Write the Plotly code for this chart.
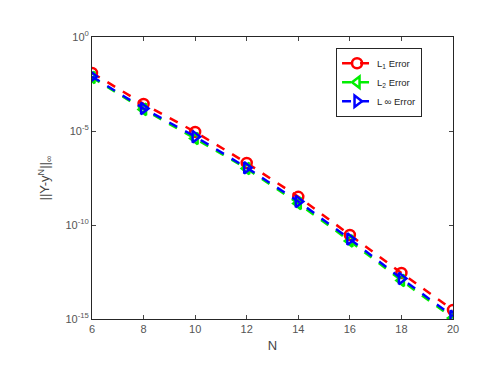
import plotly.graph_objects as go

N = [6, 8, 10, 12, 14, 16, 18, 20]
log_L1 = [-1.91, -3.56, -5.05, -6.70, -8.50, -10.53, -12.55, -14.52]
log_L2 = [-2.15, -3.85, -5.40, -7.00, -8.85, -10.85, -12.95, -14.95]
log_Linf = [-2.10, -3.80, -5.30, -6.95, -8.75, -10.75, -12.85, -14.85]
L1 = [10 ** v for v in log_L1]
L2 = [10 ** v for v in log_L2]
Linf = [10 ** v for v in log_Linf]

ytick_vals = [1e0, 1e-5, 1e-10, 1e-15]
ytick_text = ["10<sup>0</sup>", "10<sup>-5</sup>", "10<sup>-10</sup>", "10<sup>-15</sup>"]
xtick_vals = [6, 8, 10, 12, 14, 16, 18, 20]

font = "Liberation Sans, Arial, sans-serif"
axcol = "#262626"

fig = go.Figure()
fig.add_trace(go.Scatter(x=N, y=L1, mode="lines+markers", name="L<sub>1</sub> Error",
                         line=dict(color="red", width=2.5, dash="dash"),
                         marker=dict(symbol="circle-open", size=10, color="red", line=dict(width=2.5))))
fig.add_trace(go.Scatter(x=N, y=L2, mode="lines+markers", name="L<sub>2</sub> Error",
                         line=dict(color="#00ee00", width=2.5, dash="dash"),
                         marker=dict(symbol="triangle-left-open", size=10, color="#00ee00", line=dict(width=2.5))))
fig.add_trace(go.Scatter(x=N, y=Linf, mode="lines+markers", name="L ∞ Error",
                         line=dict(color="blue", width=2.5, dash="dash"),
                         marker=dict(symbol="triangle-right-open", size=10, color="blue", line=dict(width=2.5))))

fig.update_layout(
    width=485, height=367,
    margin=dict(l=84, r=40, t=29, b=56),
    paper_bgcolor="white", plot_bgcolor="white",
    font=dict(family=font, size=11, color=axcol),
    showlegend=True,
    legend=dict(x=0.676, y=0.962, xanchor="left", yanchor="top",
                bordercolor=axcol, borderwidth=1, bgcolor="white",
                font=dict(size=9.5), tracegroupgap=0, itemwidth=30),
    xaxis=dict(range=[6, 20], tickvals=xtick_vals, ticks="inside", ticklen=4,
               showline=True, linecolor=axcol, linewidth=1, mirror="ticks",
               showgrid=False, zeroline=False, tickfont=dict(size=11, color="#555"),
               automargin=False,
               title=dict(text="N", font=dict(size=13, color="#444"), standoff=6)),
    yaxis=dict(type="log", range=[-15, 0], tickvals=ytick_vals, ticktext=ytick_text,
               ticks="inside", ticklen=4, showline=True, linecolor=axcol, linewidth=1,
               mirror="ticks", showgrid=False, zeroline=False,
               tickfont=dict(size=11, color="#555"), automargin=False,
               title=dict(text="||Y-y<sup>N</sup>||<sub>∞</sub>", font=dict(size=13, color="#444"), standoff=12)),
)

fig.write_html("out.html")
